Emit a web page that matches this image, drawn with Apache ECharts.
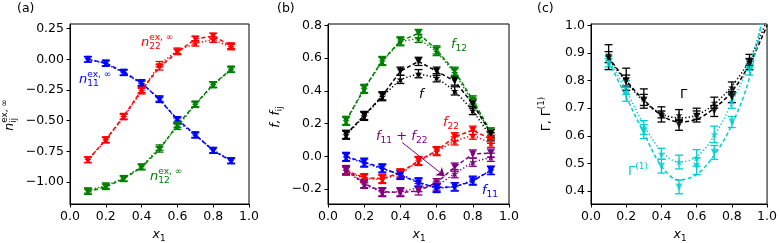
<!DOCTYPE html>
<html><head><meta charset="utf-8">
<script src="https://cdn.jsdelivr.net/npm/echarts@6/dist/echarts.min.js"></script>
<style>html,body{margin:0;padding:0;background:#fff}#c{width:780px;height:243px}</style>
</head><body><div id="c"></div>
<script>
// ---------- data ----------
const X = [0.1, 0.2, 0.3, 0.4, 0.5, 0.6, 0.7, 0.8, 0.9];
const XFIT = [0.1, 0.2, 0.3, 0.4, 0.5, 0.6, 0.7, 0.8, 0.9, 1.0];

// panel (a)
const n11_A = [0.0, -0.03, -0.105, -0.19, -0.33, -0.49, -0.615, -0.745, -0.83];
const n11_B = [0.0, -0.035, -0.11, -0.2, -0.32, -0.5, -0.62, -0.74, -0.825];
const n22_A = [-0.82, -0.655, -0.465, -0.25, -0.065, 0.06, 0.165, 0.19, 0.11];
const n22_B = [-0.82, -0.66, -0.47, -0.26, -0.04, 0.07, 0.13, 0.16, 0.10];
const n12_A = [-1.08, -1.04, -0.975, -0.88, -0.735, -0.535, -0.365, -0.205, -0.08];
const n12_B = [-1.07, -1.03, -0.97, -0.875, -0.72, -0.55, -0.37, -0.21, -0.085];
const errA = [0.022, 0.022, 0.022, 0.022, 0.022, 0.022, 0.022, 0.022, 0.022];

// panel (b)
const f12_A = [0.22, 0.415, 0.585, 0.705, 0.75, 0.65, 0.52, 0.345, 0.15];
const f12_B = [0.215, 0.41, 0.58, 0.70, 0.72, 0.64, 0.51, 0.33, 0.14];
const f_A = [0.135, 0.25, 0.37, 0.52, 0.58, 0.52, 0.46, 0.32, 0.14];
const f_B = [0.13, 0.245, 0.365, 0.47, 0.505, 0.48, 0.40, 0.28, 0.12];
const f22_A = [-0.085, -0.13, -0.135, -0.10, -0.025, 0.035, 0.12, 0.16, 0.105];
const f22_B = [-0.09, -0.135, -0.14, -0.105, -0.03, 0.03, 0.095, 0.13, 0.08];
const f1122_A = [-0.08, -0.165, -0.215, -0.22, -0.21, -0.16, -0.065, 0.015, 0.02];
const f1122_B = [-0.085, -0.17, -0.22, -0.215, -0.19, -0.18, -0.105, -0.035, -0.005];
const f11_A = [0.0, -0.035, -0.07, -0.115, -0.16, -0.19, -0.185, -0.15, -0.085];
const f11_B = [-0.005, -0.04, -0.075, -0.11, -0.155, -0.195, -0.185, -0.145, -0.085];
const errB = [0.025, 0.025, 0.025, 0.025, 0.025, 0.025, 0.025, 0.025, 0.025];
const ARROW = [[0.41, 0.085], [0.645, -0.12]];

// panel (c)
const G_A = [0.885, 0.80, 0.73, 0.67, 0.64, 0.67, 0.69, 0.74, 0.86];
const G_B = [0.885, 0.805, 0.735, 0.685, 0.675, 0.68, 0.72, 0.775, 0.875];
const G_A_err = [0.02, 0.02, 0.02, 0.02, 0.02, 0.02, 0.02, 0.02, 0.02];
const G_B_err = [0.045, 0.04, 0.035, 0.02, 0.02, 0.02, 0.02, 0.02, 0.02];
const G1_A = [0.86, 0.75, 0.615, 0.49, 0.415, 0.49, 0.54, 0.65, 0.84];
const G1_B = [0.87, 0.775, 0.63, 0.535, 0.505, 0.52, 0.605, 0.725, 0.858];
const G1_A_err = [0.02, 0.025, 0.025, 0.025, 0.025, 0.03, 0.025, 0.02, 0.02];
const G1_B_err = [0.02, 0.025, 0.025, 0.02, 0.025, 0.03, 0.03, 0.025, 0.02];
const G_fitA = [0.885, 0.80, 0.73, 0.675, 0.65, 0.66, 0.70, 0.76, 0.86, 1.0];
const G_fitB = [0.88, 0.795, 0.725, 0.68, 0.665, 0.675, 0.715, 0.78, 0.875, 1.02];
const G1_fitA = [0.87, 0.74, 0.61, 0.49, 0.44, 0.46, 0.53, 0.64, 0.81, 1.12];
const G1_fitB = [0.875, 0.765, 0.64, 0.545, 0.505, 0.525, 0.60, 0.72, 0.865, 1.07];

// ticks
const TICKS_X = [0, 0.2, 0.4, 0.6, 0.8, 1.0];
const TICKS_A = [-1.0, -0.75, -0.5, -0.25, 0, 0.25];
const TICKS_B = [-0.2, 0, 0.2, 0.4, 0.6, 0.8];
const TICKS_C = [0.4, 0.5, 0.6, 0.7, 0.8, 0.9, 1.0];

// ---------- styling ----------
const BLUE = '#0000ff', RED = '#ff0000', GREEN = '#008000', BLACK = '#000000', PURPLE = '#800080', CYAN = '#00ced1';
const STAR = 'path://M0,-10L2.35,-3.24L9.51,-3.09L3.8,1.24L5.88,8.09L0,4L-5.88,8.09L-3.8,1.24L-9.51,-3.09L-2.35,-3.24Z';
const DASH = [4, 2.5], DOT = [1.3, 2.2];
const FONT = '"DejaVu Sans"';

const chart = echarts.init(document.getElementById('c'), null, {renderer: 'canvas'});

function fmt(d) {
  return v => (Math.abs(v) < 1e-9 ? (0).toFixed(d) : (v < 0 ? '\u2212' : '') + Math.abs(v).toFixed(d));
}
function grid(left, width) {
  return {left: left, top: 24, width: width, height: 180, show: true, borderColor: '#000', borderWidth: 1, backgroundColor: 'transparent'};
}
function xAx(g) {
  return {type: 'value', gridIndex: g, min: 0, max: 1,
    axisLine: {show: true, onZero: false, lineStyle: {color: '#000', width: 1}},
    axisTick: {show: true, length: 3.5, customValues: TICKS_X, lineStyle: {color: '#000', width: 1}},
    axisLabel: {color: '#000', fontFamily: FONT, fontSize: 12.5, margin: 6, customValues: TICKS_X, formatter: fmt(1)},
    splitLine: {show: false}};
}
function yAx(g, min, max, ticks, d) {
  return {type: 'value', gridIndex: g, min: min, max: max,
    axisLine: {show: true, onZero: false, lineStyle: {color: '#000', width: 1}},
    axisTick: {show: true, length: 3.5, customValues: ticks, lineStyle: {color: '#000', width: 1}},
    axisLabel: {color: '#000', fontFamily: FONT, fontSize: 12.5, margin: 6, customValues: ticks, formatter: fmt(d)},
    splitLine: {show: false}};
}
function pts(xs, vals) { return xs.map((x, i) => [x, vals[i]]); }
function lineS(g, vals, color, dash, sym, extra) {
  const s = {type: 'line', xAxisIndex: g, yAxisIndex: g, data: pts(X, vals),
    symbol: sym === 'v' ? 'triangle' : STAR, symbolRotate: sym === 'v' ? 180 : 0,
    symbolSize: sym === 'v' ? 7 : 7.5, showSymbol: true,
    itemStyle: {color: color}, lineStyle: {color: color, width: 1.5, type: dash ? DASH : DOT}, z: 4, silent: true};
  return Object.assign(s, extra || {});
}
function scatS(g, vals, color, sym) {
  return {type: 'scatter', xAxisIndex: g, yAxisIndex: g, data: pts(X, vals),
    symbol: sym === 'v' ? 'triangle' : STAR, symbolRotate: sym === 'v' ? 180 : 0,
    symbolSize: sym === 'v' ? 7 : 7.5, itemStyle: {color: color}, z: 4, silent: true};
}
function fitS(g, vals, color, dash) {
  return {type: 'line', xAxisIndex: g, yAxisIndex: g, data: pts(XFIT, vals), symbol: 'none', smooth: 0.35,
    clip: true, lineStyle: {color: color, width: 1.5, type: dash ? DASH : DOT}, z: 3, silent: true};
}
function errS(g, vals, errs, color) {
  return {type: 'custom', xAxisIndex: g, yAxisIndex: g, silent: true, z: 3,
    data: X.map((x, i) => [x, vals[i] - errs[i], vals[i] + errs[i]]),
    renderItem: (params, api) => {
      const lo = api.coord([api.value(0), api.value(1)]);
      const hi = api.coord([api.value(0), api.value(2)]);
      const w = 4, st = {stroke: color, lineWidth: 1.3};
      return {type: 'group', children: [
        {type: 'line', shape: {x1: lo[0], y1: lo[1], x2: hi[0], y2: hi[1]}, style: st},
        {type: 'line', shape: {x1: lo[0] - w, y1: lo[1], x2: lo[0] + w, y2: lo[1]}, style: st},
        {type: 'line', shape: {x1: hi[0] - w, y1: hi[1], x2: hi[0] + w, y2: hi[1]}, style: st}
      ]};
    }};
}

// math-ish labels
const ctx = document.createElement('canvas').getContext('2d');
function mtext(segs, opt) {
  const size = opt.size || 13, small = +(size * 0.7).toFixed(1);
  let cx = 0; const ch = [];
  const font = (it, sz) => (it ? 'italic ' : '') + sz + 'px ' + FONT;
  const add = (t, it, sz, dy) => {
    const f = font(it, sz);
    ch.push({type: 'text', x: cx, y: dy, style: {text: t, font: f, fill: opt.color || '#000',
      textAlign: 'left', textVerticalAlign: 'middle', align: 'left', verticalAlign: 'middle'}});
    ctx.font = f; return ctx.measureText(t).width;
  };
  segs.forEach(s => {
    if (s.t !== undefined) cx += add(s.t, !!s.i, size, 0);
    else {
      let ws = 0, wp = 0;
      if (s.sub !== undefined) ws = add(s.sub, false, small, size * 0.3);
      if (s.sup !== undefined) wp = add(s.sup, false, small, -size * 0.42);
      cx += Math.max(ws, wp);
    }
  });
  if (opt.center) ch.forEach(c => { c.x -= cx / 2; });
  return {type: 'group', x: opt.x, y: opt.y, rotation: opt.rot || 0, children: ch, silent: true};
}
const R = Math.PI / 2;
const graphics = [
  mtext([{t: '(a)'}], {x: 17, y: 9, size: 12.5}),
  mtext([{t: '(b)'}], {x: 277, y: 9, size: 12.5}),
  mtext([{t: '(c)'}], {x: 537, y: 9, size: 12.5}),
  mtext([{t: 'x', i: 1}, {sub: '1'}], {x: 159, y: 235, center: true, size: 12.5}),
  mtext([{t: 'x', i: 1}, {sub: '1'}], {x: 419, y: 235, center: true, size: 12.5}),
  mtext([{t: 'x', i: 1}, {sub: '1'}], {x: 680, y: 235, center: true, size: 12.5}),
  mtext([{t: 'n', i: 1}, {sub: 'ij', sup: 'ex, \u221e'}], {x: 10, y: 115, rot: R, center: true, size: 12.5}),
  mtext([{t: 'f, f', i: 1}, {sub: 'ij'}], {x: 276, y: 117, rot: R, center: true, size: 12.5}),
  mtext([{t: '\u0393, \u0393'}, {sup: '(1)'}], {x: 547, y: 114, rot: R, center: true, size: 12.5}),
  mtext([{t: 'n', i: 1}, {sub: '22', sup: 'ex, \u221e'}], {x: 141, y: 43, color: RED}),
  mtext([{t: 'n', i: 1}, {sub: '11', sup: 'ex, \u221e'}], {x: 79, y: 80, color: BLUE}),
  mtext([{t: 'n', i: 1}, {sub: '12', sup: 'ex, \u221e'}], {x: 150, y: 177, color: GREEN}),
  mtext([{t: 'f', i: 1}, {sub: '12'}], {x: 451, y: 45, color: GREEN}),
  mtext([{t: 'f', i: 1}], {x: 419, y: 95, color: BLACK}),
  mtext([{t: 'f', i: 1}, {sub: '22'}], {x: 443, y: 123, color: RED}),
  mtext([{t: 'f', i: 1}, {sub: '11'}, {t: ' + '}, {t: 'f', i: 1}, {sub: '22'}], {x: 376, y: 137, color: PURPLE}),
  mtext([{t: 'f', i: 1}, {sub: '11'}], {x: 482, y: 191, color: BLUE}),
  mtext([{t: '\u0393'}], {x: 680, y: 95, color: BLACK}),
  mtext([{t: '\u0393'}, {sup: '(1)'}], {x: 628, y: 172, color: CYAN})
];

const series = [
  // (a)
  errS(0, n11_A, errA, BLUE), errS(0, n11_B, errA, BLUE),
  errS(0, n22_A, errA, RED), errS(0, n22_B, errA, RED),
  errS(0, n12_A, errA, GREEN), errS(0, n12_B, errA, GREEN),
  lineS(0, n11_A, BLUE, true, 'v'), lineS(0, n11_B, BLUE, false, '*'),
  lineS(0, n22_A, RED, true, 'v'), lineS(0, n22_B, RED, false, '*'),
  lineS(0, n12_A, GREEN, true, 'v'), lineS(0, n12_B, GREEN, false, '*'),
  // (b)
  errS(1, f12_A, errB, GREEN), errS(1, f12_B, errB, GREEN),
  errS(1, f_A, errB, BLACK), errS(1, f_B, errB, BLACK),
  errS(1, f22_A, errB, RED), errS(1, f22_B, errB, RED),
  errS(1, f1122_A, errB, PURPLE), errS(1, f1122_B, errB, PURPLE),
  errS(1, f11_A, errB, BLUE), errS(1, f11_B, errB, BLUE),
  lineS(1, f12_A, GREEN, true, 'v'), lineS(1, f12_B, GREEN, false, '*'),
  lineS(1, f_A, BLACK, true, 'v'), lineS(1, f_B, BLACK, false, '*'),
  lineS(1, f22_A, RED, true, 'v'), lineS(1, f22_B, RED, false, '*'),
  lineS(1, f1122_A, PURPLE, true, 'v', {markLine: {silent: true, symbol: ['none', 'arrow'], symbolSize: 8,
    lineStyle: {color: PURPLE, width: 1, type: 'solid'}, label: {show: false}, emphasis: {disabled: true},
    data: [[{coord: ARROW[0]}, {coord: ARROW[1]}]]}}),
  lineS(1, f1122_B, PURPLE, false, '*'),
  lineS(1, f11_A, BLUE, true, 'v'), lineS(1, f11_B, BLUE, false, '*'),
  // (c)
  fitS(2, G_fitA, BLACK, true), fitS(2, G_fitB, BLACK, false),
  fitS(2, G1_fitA, CYAN, true), fitS(2, G1_fitB, CYAN, false),
  errS(2, G1_A, G1_A_err, CYAN), errS(2, G1_B, G1_B_err, CYAN),
  errS(2, G_A, G_A_err, BLACK), errS(2, G_B, G_B_err, BLACK),
  scatS(2, G1_A, CYAN, 'v'), scatS(2, G1_B, CYAN, '*'),
  scatS(2, G_A, BLACK, 'v'), scatS(2, G_B, BLACK, '*')
];

chart.setOption({
  animation: false,
  backgroundColor: '#fff',
  grid: [grid(70, 179), grid(328, 181), grid(591, 178)],
  xAxis: [xAx(0), xAx(1), xAx(2)],
  yAxis: [yAx(0, -1.18, 0.288, TICKS_A, 2), yAx(1, -0.29, 0.808, TICKS_B, 1), yAx(2, 0.353, 1.005, TICKS_C, 1)],
  series: series,
  graphic: graphics
});
</script></body></html>
